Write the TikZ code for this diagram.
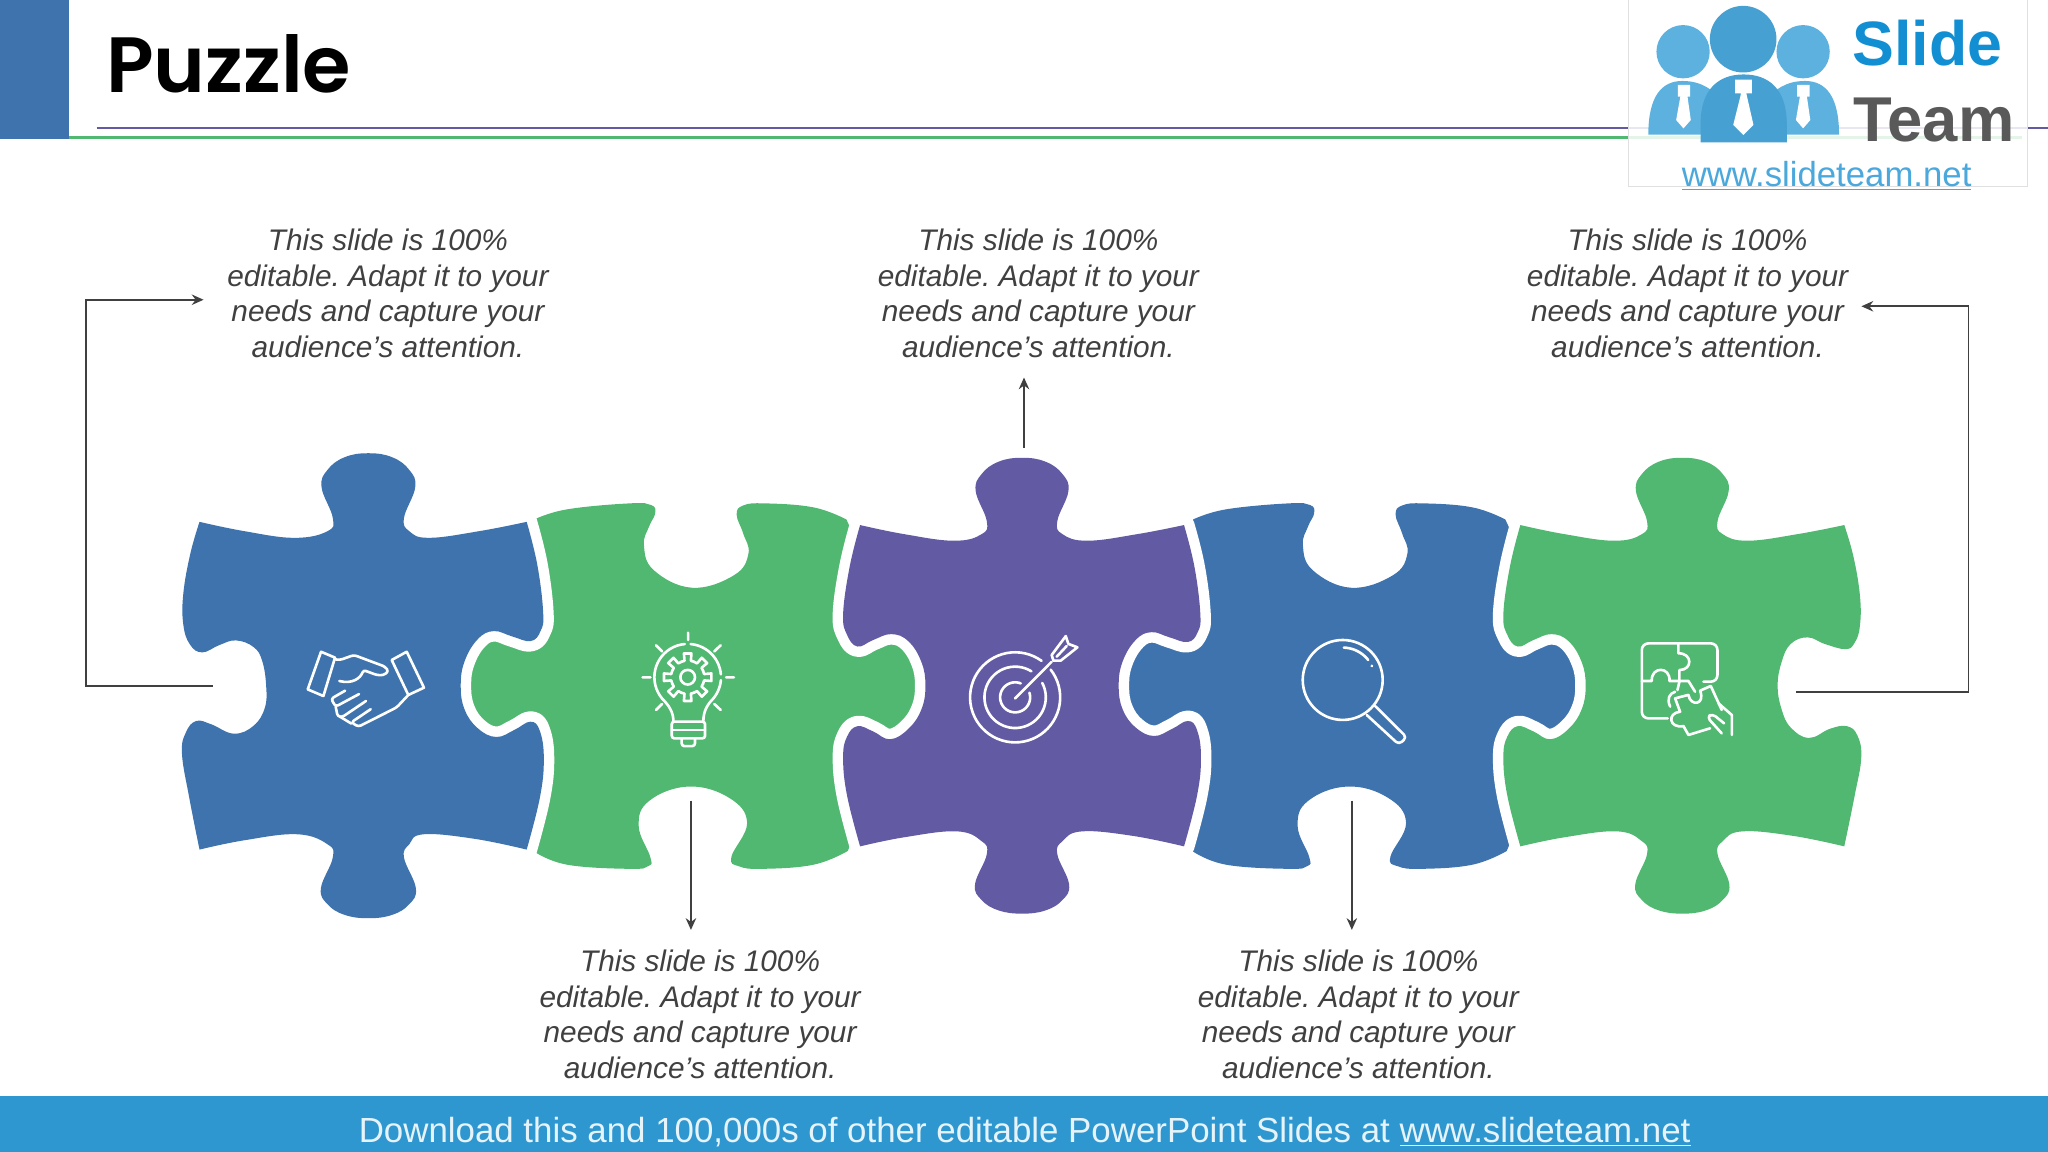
\documentclass[tikz,border=0pt]{standalone}
\usepackage{fontspec}
\setmainfont{Liberation Sans}
\newfontfamily\titlefont{Poppins SemiBold}
\usetikzlibrary{arrows.meta}
\definecolor{bluepc}{HTML}{3F73AD}
\definecolor{greenpc}{HTML}{50B870}
\definecolor{purplepc}{HTML}{625BA3}
\definecolor{barblue}{HTML}{2E97D0}
\definecolor{logoblue}{HTML}{4AA8DC}
\definecolor{logotext}{HTML}{128FD2}
\definecolor{textgray}{HTML}{404040}
\tikzset{%
  >={Stealth[width=8pt,length=9pt]},
  % Specifications for style of nodes:
     blurb/.style = {align=center, text=textgray, inner xsep=18pt, inner ysep=15pt,
                     font=\itshape\fontsize{22.8}{27.3}\selectfont},
      halo/.style = {preaction={draw=white, line width=16pt, line join=round}},
      icon/.style = {draw=white, line width=2pt, line cap=round, line join=round},
     conn/.style = {draw=textgray, line width=1.3pt},
}
\frenchspacing
% sides of the pieces, clockwise
\def\kx{0}
\def\knobtop{-- plot[smooth,tension=.7] coordinates {(-124,-123) (-90,-116) (-52,-111) ({\kx-31},-116) ({\kx-27},-126) ({\kx-35.5},-149) ({\kx-31},-162) ({\kx-18},-171.5) ({\kx},-174.5) ({\kx+18},-171.5) ({\kx+31},-162) ({\kx+35.5},-149) ({\kx+27},-126) ({\kx+31},-116) (50,-111) (88,-116) (124,-123)}}
\def\knobbot{-- plot[smooth,tension=.7] coordinates {(124,123) (85,115) (46,111.5) ({\kx+31},119) ({\kx+27},129) ({\kx+36},152) ({\kx+31},164) ({\kx+18},172) ({\kx},174.5) ({\kx-18},172) ({\kx-31},164) ({\kx-36},152) ({\kx-27},129) ({\kx-31},119) (-50,111.5) (-90,116) (-124,123)}}
\def\sockright{-- plot[smooth,tension=.7] coordinates {(124,-123) (132,-91) (136.5,-55) (134.5,-41) (127,-33.5) (113,-37) (99,-41) (87,-35) (77,-18.5) (74,0) (77,18) (87,32) (101,38.5) (115,33) (127,27) (134,34) (137,55) (134,84) (124,123)}}
\def\sockleft{-- plot[smooth,tension=.7] coordinates {(-124,123) (-134,84) (-137,55) (-134,39) (-126,31) (-114,35) (-101,41) (-87,33) (-77,18) (-74,0) (-77,-18) (-87,-34) (-100,-39.5) (-114,-35) (-126,-30) (-134,-39) (-137,-55) (-132,-91) (-124,-123)}}
\def\freeleft{-- plot[smooth,tension=.7] coordinates {(-124,123) (-131.8,84) (-137.3,51) (-134.3,35) (-126.5,26.5) (-115,29) (-98,36) (-83,30) (-74.5,16.6) (-73.5,0) (-76.5,-18.6) (-83,-29) (-96.4,-34) (-109,-30.5) (-122,-25) (-131.3,-31) (-136.3,-46) (-136.3,-69) (-131,-99) (-124,-123)}}
\def\freeright{-- plot[smooth,tension=.7] coordinates {(124,-123) (131,-99) (136,-69) (136,-46) (132,-33) (125,-28) (109,-32) (96,-37) (83,-32) (76,-18) (73,0) (76,18) (83,32) (97,40) (113,33) (126,31) (134,38) (137,55) (132,84) (124,123)}}
\def\socktop{-- plot[smooth,tension=.7] coordinates {(-119.6,-127.3) (-94.6,-135) (-46.6,-139.6) (-30,-138.3) (-27,-132) (-31.6,-122) (-35.6,-107.6) (-28,-88.4) (1.4,-75) (33.4,-84.6) (44.4,-101) (40.4,-116.6) (35.4,-131) (40.4,-138) (57.4,-139.6) (94.4,-136.5) (119.4,-127.3)}}
\def\sockbot{-- plot[smooth,tension=.7] coordinates {(120.4,126.6) (94.4,137) (55.4,140.2) (37,138.2) (31.4,131) (43.4,104.9) (29.4,85.7) (-1.6,77.2) (-31.6,88.2) (-39.6,107.4) (-30.8,131) (-32,138) (-46.6,140.2) (-94.6,137) (-119.6,127)}}
\begin{document}
\begin{tikzpicture}[x=1pt, y=-1pt]
  \useasboundingbox (0,0) rectangle (1568,882);
  % Header
  \fill[bluepc] (0,0) rectangle (53,106.5);
  \node (title) [anchor=base west, inner sep=0pt, font=\titlefont\fontsize{60}{60}\selectfont] at (81,70.5) {Puzzle};
  \draw[color=purplepc, line width=1.6pt] (74,98) -- (1568,98);
  \draw[color=greenpc, line width=2.2pt] (53,105) -- (1548,105);

  % Logo
  \fill[white, fill opacity=.85] (1247,-2) rectangle (1552,143);
  \draw[black!12, line width=.8pt] (1247,-2) -- (1247,143) -- (1552,143) -- (1552,-2);
  \fill[logoblue!90!white] (1288.6,39.6) circle[radius=20.4] (1380.5,39.6) circle[radius=20.4];
  \fill[logoblue!90!white] (1262,103) .. controls (1262,74) and (1272,62) .. (1288,62) .. controls (1302,62) and (1312,68) .. (1320,80) -- (1320,103) -- cycle;
  \fill[logoblue!90!white] (1408,103) .. controls (1408,74) and (1398,62) .. (1382,62) .. controls (1368,62) and (1358,68) .. (1350,80) -- (1350,103) -- cycle;
  \fill[logoblue!95!black] (1334.6,30) circle[radius=25.5];
  \fill[logoblue!95!black] (1302,95) .. controls (1302,68) and (1316,57) .. (1335,57) .. controls (1354,57) and (1368,68) .. (1368,95) -- (1368,109) -- (1302,109) -- cycle;
  \fill[white] (1328.5,61) -- (1341.2,61) -- (1341.2,71.5) -- (1337,71.5) -- (1342.5,95.7) -- (1334.8,103.4) -- (1327,95.7) -- (1333,71.5) -- (1328.5,71.5) -- cycle;
  \fill[white] (1284.6,65) -- (1294,65) -- (1294,74) -- (1292,74) -- (1294.5,91.9) -- (1288.9,98.3) -- (1283.3,91.9) -- (1286.5,74) -- (1284.6,74) -- cycle;
  \fill[white] (1376,65) -- (1385.4,65) -- (1385.4,74) -- (1383.4,74) -- (1386,91.9) -- (1380.5,98.3) -- (1375,91.9) -- (1378,74) -- (1376,74) -- cycle;
  \node (logoa) [anchor=base west, inner sep=0pt, text=logotext, font=\bfseries\fontsize{48}{48}\selectfont] at (1418,50) {Slide};
  \node (logob) [anchor=base west, inner sep=0pt, text=black!65, font=\bfseries\fontsize{48.5}{48.5}\selectfont] at (1419,108.5) {Team};
  \node (logoc) [anchor=base, inner sep=0pt, text=logoblue, font=\fontsize{26.6}{26.6}\selectfont] at (1398.5,143) {\underline{www.slideteam.net}};

  % Puzzle pieces: the tabbed ones first, the others cut them with their halo
  \begin{scope}[shift={(528.6,525)}]
    \path[fill=greenpc] (-119.6,-127.3) \socktop -- (132,-100) -- (190,-45) -- (190,45) -- (132,100) -- (120.4,126.6) \sockbot -- (-132,100) -- (-190,45) -- (-190,-45) -- (-132,-100) -- cycle;
  \end{scope}
  \begin{scope}[shift={(1033.1,525)}]
    \path[fill=bluepc] (-119.6,-127.3) \socktop -- (132,-100) -- (190,-45) -- (190,45) -- (132,100) -- (120.4,126.6) \sockbot -- (-132,100) -- (-190,45) -- (-190,-45) -- (-132,-100) -- cycle;
  \end{scope}
  \begin{scope}[shift={(278,525)}, xscale=1.01, yscale=1.02]
    \def\kx{4}
    \path[fill=bluepc, halo] (-124,-123) \knobtop \sockright \knobbot \freeleft -- cycle;
  \end{scope}
  \begin{scope}[shift={(782.5,525)}]
    \path[fill=purplepc, halo] (-124,-123) \knobtop \sockright \knobbot \sockleft -- cycle;
  \end{scope}
  \begin{scope}[shift={(1288,525)}]
    \path[fill=greenpc, halo] (-124,-123) \knobtop \freeright \knobbot \sockleft -- cycle;
  \end{scope}

  % Handshake
  \draw[icon] (245.8,499) -- (256.5,503.5) -- (247.6,532.9) -- (235.6,527.8) -- cycle;
  \draw[icon] (299.9,505.3) -- (311.4,499) -- (324.6,526.5) -- (312.6,532.1) -- cycle;
  \draw[icon, rounded corners=2pt] (256.5,504.8) -- (260.3,505.3) -- (271,501.5) -- (294.8,510.4) -- (297.5,514) -- (293.5,517) -- (288.4,516.8) -- (278.2,513) .. controls (276,519) and (270,524) .. (259.8,521.4);
  \draw[icon, rounded corners=2pt] (312.6,532.1) -- (303.7,541.6) -- (274.4,556.4) -- (269,553) -- (283.8,543);
  \draw[icon, rounded corners=2pt] (264.2,528.8) -- (253.5,535) -- (257,541) -- (274.9,531.4);
  \draw[icon, rounded corners=2pt] (257,541) -- (258.5,548.5) -- (262,549) -- (280.2,536.7);
  \draw[icon, rounded corners=2pt] (260,548.5) -- (269,554);

  % Bulb
  \draw[icon] (526.8,484.4) -- (526.8,490) (492,518.6) -- (498,518.6) (555.9,518.6) -- (562,518.6)
    (502.3,494) -- (506.9,498.7) (551.8,494) -- (546.9,498.7) (502.3,543.6) -- (506.9,539) (551.8,543.6) -- (546.9,539);
  \draw[icon] plot[domain=95:220,samples=20] ({526.5+25.5*cos(\x)},{518.5-25.5*sin(\x)}) .. controls (512,540) and (515.6,545) .. (515.6,552.5);
  \draw[icon] plot[domain=85:5,samples=20] ({526.5+25.5*cos(\x)},{518.5-25.5*sin(\x)});
  \draw[icon] plot[domain=-5:-40,samples=10] ({526.5+25.5*cos(\x)},{518.5-25.5*sin(\x)}) .. controls (541,540) and (538.5,545) .. (538.5,552.5);
  \draw[icon, rounded corners=2pt] (514.3,552.5) rectangle (539.8,565.3);
  \draw[icon] (514.3,558.9) -- (539.8,558.9);
  \draw[icon, rounded corners=2pt] (521.9,565.3) -- (521.9,571.2) -- (532.1,571.2) -- (532.1,565.3);
  \begin{scope}[shift={(526.5,518.5)}]
    \draw[icon] (0,0) circle[radius=5.6];
    \foreach \a in {0,45,...,315}
      \draw[icon] ({\a-22.5}:12.8) -- ({\a-11}:12.8) -- ({\a-9}:18.4) -- ({\a+9}:18.4) -- ({\a+11}:12.8) -- ({\a+22.5}:12.8);
  \end{scope}

  % Target
  \draw[icon] plot[domain=54:398,samples=60] ({777.2+34.5*cos(\x)},{533.9-34.5*sin(\x)});
  \draw[icon] plot[domain=58:388,samples=50] ({777.2+23.5*cos(\x)},{533.9-23.5*sin(\x)});
  \draw[icon] plot[domain=68:378,samples=40] ({777.2+11.5*cos(\x)},{533.9-11.5*sin(\x)});
  \draw[icon] (777.2,534.7) -- (805.2,506.6);
  \draw[icon] (805.2,501.5) -- (816,487) -- (818,493) -- (824.9,495.6) -- (812.1,505.8) -- (806.5,505.8) -- cycle;
  \draw[icon] (809,502.8) -- (816.7,494.6);

  % Magnifier
  \draw[icon] (1028,520.6) circle[radius=30.6];
  \draw[icon, rounded corners=3pt] (1052.8,540.5) -- (1077,564.5) -- (1071,570) -- (1046.4,547.4);
  \draw[icon] plot[domain=88:38,samples=12] ({1028+24.8*cos(\x)},{520.6-24.8*sin(\x)});
  \draw[icon] (1050.2,509.7) -- (1050.4,510);

  % Puzzle in hand
  \draw[icon, rounded corners=5pt] (1304.2,521.9) -- (1314.9,521.9) -- (1314.9,492.6) -- (1257,492.6) -- (1257,550) -- (1276.9,550);
  \draw[icon] (1285,492.6) -- (1285,500.2) .. controls (1296,500) and (1296,513) .. (1285.8,513) -- (1285.8,521.9) -- (1284.3,528.3);
  \draw[icon] (1257,521.4) -- (1264.6,521.4) .. controls (1264,510) and (1279,510) .. (1278.2,521.4) -- (1292.7,521.4) -- (1297.8,529.6);
  \draw[icon] (1282.5,534.7) -- (1292.7,532) .. controls (1294,541) and (1306,540) .. (1301.6,528.8) -- (1309.8,525.2) -- (1318.2,543.6);
  \draw[icon] (1282.5,534.7) -- (1286.3,544.9) .. controls (1276,546) and (1278,558) .. (1288.9,555.9) -- (1292.7,562.7) -- (1309.3,557.6);
  \draw[icon] (1278.7,541) .. controls (1276,535) and (1278,531) .. (1282.5,529.6);
  \draw[icon] (1315.7,538.5) -- (1325.9,547.4) -- (1325.9,562.7);
  \draw[icon, rounded corners=3pt] (1318.2,561.5) -- (1307,549) -- (1311,546.5) -- (1320,553.8);

  % Text
  \node (blurba) [blurb] at (297,224.5) {This slide is 100\%\\editable. Adapt it to your\\needs and capture your\\audience’s attention.};
  \node (blurbb) [blurb] at (536,776.5) {This slide is 100\%\\editable. Adapt it to your\\needs and capture your\\audience’s attention.};
  \node (blurbc) [blurb] at (795,224.5) {This slide is 100\%\\editable. Adapt it to your\\needs and capture your\\audience’s attention.};
  \node (blurbd) [blurb] at (1040,776.5) {This slide is 100\%\\editable. Adapt it to your\\needs and capture your\\audience’s attention.};
  \node (blurbe) [blurb] at (1292,224.5) {This slide is 100\%\\editable. Adapt it to your\\needs and capture your\\audience’s attention.};

  % Connectors
  \coordinate (starta) at (163,525);
  \coordinate (benda) at (66,525);
  \coordinate (startb) at (529,613);
  \coordinate (startc) at (784,343);
  \coordinate (startd) at (1035,613);
  \coordinate (starte) at (1375,530);
  \coordinate (bende) at (1507,530);
  \draw[conn,->] (starta) -- (benda) |- ([yshift=-5pt]blurba.west);
  \draw[conn,->] (startb) -- ([xshift=-7pt]blurbb.north);
  \draw[conn,->] (startc) -- ([xshift=-11pt]blurbc.south);
  \draw[conn,->] (startd) -- ([xshift=-5pt]blurbd.north);
  \draw[conn,->] (starte) -- (bende) |- ([xshift=-8pt,yshift=-10pt]blurbe.east);

  % Footer
  \fill[barblue] (0,839) rectangle (1568,882);
  \node (footer) [anchor=base, inner sep=0pt, text=white!88!barblue, font=\fontsize{26.7}{26.7}\selectfont] at (784.5,875) {Download this and 100,000s of other editable PowerPoint Slides at \underline{www.slideteam.net}};
\end{tikzpicture}
\end{document}
